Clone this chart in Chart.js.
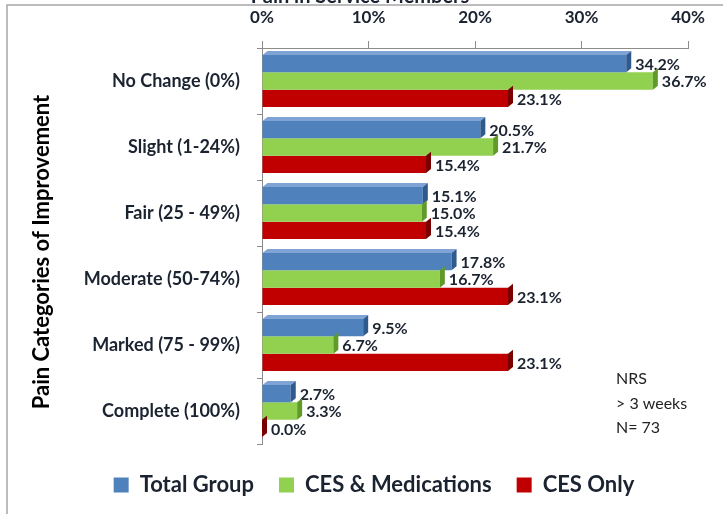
<!DOCTYPE html>
<html>
<head>
<meta charset="utf-8">
<script src="https://cdn.jsdelivr.net/npm/chart.js@4.4.1/dist/chart.umd.min.js"></script>
<style>
html,body{margin:0;padding:0;background:#fff;}
#wrap{position:relative;width:723px;height:514px;}
</style>
</head>
<body>
<div id="wrap"><canvas id="c" width="723" height="514"></canvas></div>
<script>
const categories = ["No Change (0%)", "Slight (1-24%)", "Fair (25 - 49%)", "Moderate (50-74%)", "Marked (75 - 99%)", "Complete (100%)"];
const totalGroup = [34.2, 20.5, 15.1, 17.8, 9.5, 2.7];
const cesMedications = [36.7, 21.7, 15.0, 16.7, 6.7, 3.3];
const cesOnly = [23.1, 15.4, 15.4, 23.1, 23.1, 0.0];
const seriesNames = ["Total Group", "CES & Medications", "CES Only"];
const xTicks = [0, 10, 20, 30, 40];
const chartTitle = "Pain in Service Members";
const yTitle = "Pain Categories of Improvement";
const noteLines = ["NRS", "> 3 weeks", "N= 73"];

const FONT = "Lato, 'Open Sans', sans-serif";
const TEXT = "#1b2331";
const fills = ["#4f81bd", "#92d050", "#c00000"];
const sides = ["#2f5a8e", "#5f9a2a", "#7a0000"];
const tops = ["#7ea3d4", "#b5e080", "#e04040"];

const decor = {
  id: "decor",
  afterLayout(chart) {
    const lg = chart.legend;
    if (lg) { lg.left += 16; lg.right += 16; lg.top += 5; lg.bottom += 5; }
  },
  beforeDraw(chart) {
    const ctx = chart.ctx;
    ctx.save();
    ctx.fillStyle = "#fff";
    ctx.fillRect(0, 0, chart.width, chart.height);
    ctx.strokeStyle = "#a6a6a6";
    ctx.lineWidth = 1.5;
    ctx.beginPath();
    ctx.moveTo(7, chart.height);
    ctx.lineTo(7, 5);
    ctx.lineTo(chart.width, 5);
    ctx.stroke();
    ctx.fillStyle = TEXT;
    ctx.font = "bold 20px " + FONT;
    ctx.textAlign = "center";
    ctx.textBaseline = "alphabetic";
    ctx.fillText(chartTitle, 360, 3);
    ctx.translate(42, 252);
    ctx.rotate(-Math.PI / 2);
    ctx.fillStyle = "#000";
    ctx.font = "bold 22px " + FONT;
    ctx.textBaseline = "middle";
    ctx.fillText(yTitle, 0, 0);
    ctx.restore();
  },
  afterDatasetsDraw(chart) {
    const ctx = chart.ctx;
    ctx.save();
    const d = 5, u = 4;
    chart.data.datasets.forEach((ds, di) => {
      const meta = chart.getDatasetMeta(di);
      meta.data.forEach((bar, i) => {
        const x = bar.x, base = bar.base;
        const h = bar.height;
        const top = bar.y - h / 2, bot = bar.y + h / 2;
        if (di === 0) {
          ctx.fillStyle = tops[di];
          ctx.beginPath();
          ctx.moveTo(base, top);
          ctx.lineTo(base + d, top - u);
          ctx.lineTo(x + d, top - u);
          ctx.lineTo(x, top);
          ctx.closePath();
          ctx.fill();
        }
        ctx.fillStyle = sides[di];
        ctx.beginPath();
        ctx.moveTo(x, top);
        ctx.lineTo(x + d, top - u);
        ctx.lineTo(x + d, bot - u);
        ctx.lineTo(x, bot);
        ctx.closePath();
        ctx.fill();
        ctx.fillStyle = TEXT;
        ctx.font = "bold 16px " + FONT;
        ctx.textAlign = "left";
        ctx.textBaseline = "middle";
        ctx.fillText(ds.data[i].toFixed(1) + "%", x + d + 4, bar.y + 1);
      });
    });
    ctx.fillStyle = "#222";
    ctx.font = "16px " + FONT;
    ctx.textAlign = "left";
    ctx.textBaseline = "middle";
    noteLines.forEach((t, k) => ctx.fillText(t, 616, 379 + k * 24.5));
    ctx.restore();
  }
};

new Chart(document.getElementById("c"), {
  type: "bar",
  data: {
    labels: categories,
    datasets: [
      { label: seriesNames[0], data: totalGroup, backgroundColor: fills[0] },
      { label: seriesNames[1], data: cesMedications, backgroundColor: fills[1] },
      { label: seriesNames[2], data: cesOnly, backgroundColor: fills[2] }
    ]
  },
  options: {
    indexAxis: "y",
    responsive: false,
    animation: false,
    devicePixelRatio: 1,
    layout: { padding: { left: 28, right: 35, top: 0, bottom: 13 } },
    datasets: { bar: { categoryPercentage: 0.79, barPercentage: 1.0 } },
    scales: {
      x: {
        position: "top",
        min: 0, max: 40,
        afterBuildTicks(s) { s.ticks = xTicks.map(v => ({ value: v })); },
        afterFit(s) { s.height = 48; },
        ticks: {
          callback: v => v + "%",
          color: TEXT,
          font: { family: FONT, size: 17, weight: "bold" },
          padding: 13
        },
        grid: { drawOnChartArea: false, tickLength: 7, color: "#8c8c8c" },
        border: { color: "#8c8c8c", width: 1 }
      },
      y: {
        afterFit(s) { s.width = 234; },
        ticks: {
          color: TEXT,
          font: { family: FONT, size: 18, weight: "bold" },
          padding: 17
        },
        grid: { drawOnChartArea: false, tickLength: 5, color: "#8c8c8c", offset: true },
        border: { color: "#8c8c8c", width: 1 }
      }
    },
    plugins: {
      legend: {
        position: "bottom",
        labels: {
          color: TEXT,
          font: { family: FONT, size: 22, weight: "bold" },
          boxWidth: 15, boxHeight: 15, padding: 25
        }
      },
      tooltip: { enabled: false }
    }
  },
  plugins: [decor]
});
</script>
</body>
</html>
